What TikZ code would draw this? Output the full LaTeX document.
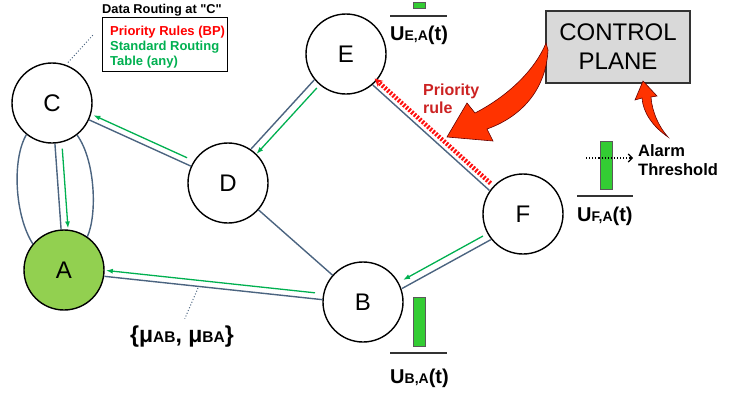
\documentclass[tikz,border=0pt]{standalone}
\usepackage{fontspec}
\setmainfont{Liberation Sans}[Ligatures=TeXOff]
\usetikzlibrary{arrows.meta}
\definecolor{slate}{HTML}{4B6480}
\definecolor{grn}{HTML}{00B050}
\definecolor{agreen}{HTML}{92D050}
\definecolor{barg}{HTML}{33CC33}
\definecolor{redfill}{HTML}{FF3300}
\definecolor{prio}{HTML}{CC2222}
\definecolor{cpfill}{HTML}{D9D9D9}
\definecolor{brightred}{HTML}{FF1010}
\newcommand\myU[1]{{\fontsize{20}{20}\selectfont U}{\fontsize{14}{14}\selectfont #1}{\fontsize{20}{20}\selectfont (t)}}
\begin{document}
\begin{tikzpicture}[x=1pt,y=-1pt,
 nd/.style={circle,draw=black,line width=1.4pt,minimum size=80pt,inner sep=0pt,fill=white,font=\fontsize{24}{24}\selectfont},
 sl/.style={draw=slate,line width=1.4pt},
 gr/.style={draw=grn,line width=1.3pt,-{Latex[length=7pt,width=5pt]}},
 bar/.style={draw=black!65,line width=0.8pt,fill=barg,minimum width=12pt,inner sep=0pt,anchor=south},
 ulab/.style={anchor=base west,inner sep=0pt,font=\bfseries},
 uline/.style={draw=black!80,line width=1.5pt},
 dotl/.style={draw=slate,dotted,line width=1pt},
 redarrow/.style={fill=redfill,draw=black!60!red,line width=0.6pt}
]
\useasboundingbox (0,0) rectangle (748,394);

% nodes
\node[nd] (C) at (52,103) {C};
\node[nd,fill=agreen] (A) at (64,270) {A};
\node[nd] (D) at (228,183) {D};
\node[nd] (E) at (346,54) {E};
\node[nd] (B) at (363,302) {B};
\node[nd] (F) at (523,214) {F};

% C - A
\draw[sl] (C.231) .. controls +(-14.7,25) and +(-18,-28) .. (A.140);
\draw[sl] (C.308) .. controls +(18.3,25) and +(10,-22) .. (A.55);
\draw[sl] (C) -- (A);
\draw[gr, transform canvas={shift={(7,0)}}, shorten <=5pt, shorten >=1pt] (C) -- (A);

% C - D
\draw[sl] (C) -- (D);
\draw[gr, transform canvas={shift={(2.5,-5.5)}}, shorten <=7pt, shorten >=2pt] (D) -- (C);

% D - E
\draw[sl, transform canvas={shift={(-4.4,-4)}}] (D) -- (E);
\draw[gr, transform canvas={shift={(1,1)}}, shorten <=4pt] (E) -- (D);

% D - B
\draw[sl] (D) -- (B);

% A - B
\draw[sl, transform canvas={shift={(0,2)}}] (A) -- (B);
\draw[gr, transform canvas={shift={(0.4,-4)}}, shorten <=8pt, shorten >=1pt] (B) -- (A);

% B - F
\draw[sl, transform canvas={shift={(3.4,6.1)}}] (B) -- (F);
\draw[gr, shorten <=5pt, shorten >=5pt] (F) -- (B);

% E - F
\draw[sl, transform canvas={shift={(-3.4,3.7)}}] (E) -- (F);
\draw[draw=brightred, line width=4.5pt, dash pattern=on 2pt off 1.6pt, -{Stealth[length=8pt,width=8pt]}, transform canvas={shift={(0.7,-0.7)}}, shorten <=4pt, shorten >=-3pt] (F) -- (E);

% data routing box
\node[anchor=base west, inner sep=0pt, font=\bfseries\fontsize{12.8}{15}\selectfont] (drh) at (102,13.5) {Data Routing at "C"};
\node[draw=black, line width=1.1pt, anchor=north west, minimum width=125pt, minimum height=54pt, inner sep=0pt] (drbox) at (102,17) {};
\node[anchor=north west, inner sep=0pt, align=left, font=\bfseries\fontsize{13}{15}\selectfont] (drtxt) at ([xshift=8pt,yshift=-9pt]drbox.north west) {\textcolor{red}{Priority Rules (BP)}\\\textcolor{grn}{Standard Routing}\\\textcolor{grn}{Table (any)}};
\coordinate (cdot) at (93,35);
\draw[dotl, shorten <=3pt] (C.70) -- (cdot);

% mu label
\node[font=\bfseries, inner sep=0pt, anchor=base west] (mulab) at (130,342) {{\fontsize{23}{23}\selectfont\{μ}{\fontsize{15.5}{15.5}\selectfont AB}{\fontsize{23}{23}\selectfont, μ}{\fontsize{15.5}{15.5}\selectfont BA}{\fontsize{23}{23}\selectfont\}}};
\coordinate (abpt) at (198,288);
\draw[dotl, shorten >=7pt] (abpt) -- (mulab.north);

% control plane
\node[draw=black!80, line width=1.2pt, fill=cpfill, minimum width=144pt, minimum height=72pt, align=center, font=\fontsize{24}{29}\selectfont] (CP) at (618,47) {CONTROL\\PLANE};

% priority rule
\node[anchor=west, align=left, text=prio, font=\bfseries\fontsize{16}{18}\selectfont, inner sep=0pt] (prl) at (423,99) {Priority\\rule};

% bars and utilisation labels
\node[bar, minimum height=6pt] (barE) at (419,9) {};
\node[bar, minimum height=49pt] (barB) at (419,347) {};
\node[bar, minimum height=48pt] (barF) at (606,190) {};
\draw[uline] (390,16) -- (447,16);
\draw[uline] (390,353) -- (447,353);
\draw[uline] (577,196) -- (633,196);
\node[ulab] (ue) at (390,40) {\myU{E,A}};
\node[ulab] (ub) at (390,383) {\myU{B,A}};
\node[ulab] (uf) at (577,221) {\myU{F,A}};

% alarm threshold
\node[anchor=west, align=left, font=\bfseries\fontsize{16.5}{19}\selectfont, inner sep=0pt] (alarm) at (638,160) {Alarm\\Threshold};
\coordinate (thr) at (586,158);
\draw[dotted, line width=1.1pt, -{Straight Barb[length=4pt,width=8pt]}, shorten >=5pt] (thr) -- (thr -| alarm.west);

% big red arrows
\path[redarrow] (546,43) .. controls (535,70) and (508,96) .. (475,113) -- (467,103) -- (447,137) -- (493,141) -- (487,129) .. controls (521,117) and (546,90) .. (548,50) -- cycle;
\path[redarrow] (668,137) .. controls (652,126) and (643,112) .. (642,98) -- (635,100) -- (643,81) -- (657,96) -- (651,97) .. controls (652,112) and (659,127) .. (668,137) -- cycle;
\end{tikzpicture}
\end{document}
